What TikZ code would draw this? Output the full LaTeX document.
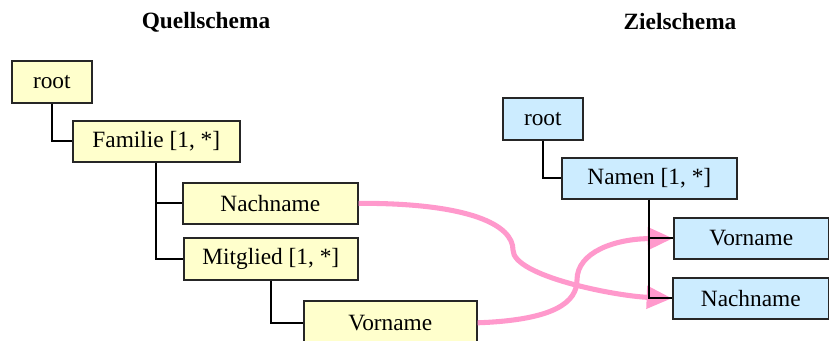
\documentclass[tikz,border=0pt]{standalone}
\usepackage{fontspec}
\setmainfont{Liberation Serif}
\usepackage{tikz}
\usetikzlibrary{arrows.meta,positioning,calc}
\definecolor{srcfill}{RGB}{255,255,204}
\definecolor{tgtfill}{RGB}{204,236,255}
\definecolor{mappink}{RGB}{255,153,204}
\tikzset{
  elem/.style={draw=black!85, line width=1.2pt, anchor=north west, inner sep=0pt,
    font=\fontsize{17.5}{20}\selectfont},
  src/.style={elem, fill=srcfill},
  tgt/.style={elem, fill=tgtfill},
  branch/.style={draw=black, line width=1.3pt},
  title/.style={font=\fontsize{17.5}{20}\selectfont\bfseries},
  mapping/.style={draw=mappink, line width=3.8pt,
    -{Triangle[length=19pt, width=16.5pt]}},
}

\begin{document}
\begin{tikzpicture}[x=0.75pt,y=-0.75pt]
      \useasboundingbox (0,0) rectangle (829,340);
      \clip (0,0) rectangle (829,340);

      % titles
      \node[title] (qtitle) at (206,22) {Quellschema};
      \node[title] (ztitle) at (680,22) {Zielschema};

      % source schema
      \node[src, minimum width=80*0.75pt, minimum height=42*0.75pt] (rootQ) at (11,60) {root};
      \node[src, minimum width=167*0.75pt, minimum height=41*0.75pt] (familie) at (72,120) {Familie [1, *]};
      \node[src, minimum width=175*0.75pt, minimum height=41*0.75pt] (nachQ) at (182,182) {Nachname};
      \node[src, minimum width=174*0.75pt, minimum height=42*0.75pt] (mitglied) at (183,237) {Mitglied [1, *]};
      \node[src, minimum width=173*0.75pt, minimum height=44*0.75pt] (vorQ) at (303,300) {Vorname};

      \draw[branch] (rootQ.south) |- (familie.west);
      \draw[branch] (familie.south) |- (nachQ.west);
      \draw[branch] (familie.south) |- (mitglied.west);
      \draw[branch] (mitglied.south) |- (vorQ.west);

      % target schema
      \node[tgt, minimum width=80*0.75pt, minimum height=42*0.75pt] (rootZ) at (502,97) {root};
      \node[tgt, minimum width=175*0.75pt, minimum height=41*0.75pt] (namen) at (561,157) {Namen [1, *]};
      \node[tgt, minimum width=155*0.75pt, minimum height=41*0.75pt] (vorZ) at (673,217) {Vorname};
      \node[tgt, minimum width=156*0.75pt, minimum height=41*0.75pt] (nachZ) at (672,277) {Nachname};

      % mappings
      \draw[mapping] (nachQ.east) .. controls (470,203) and (513,225) .. (513,250)
        .. controls (513,276) and (615,296) .. (nachZ.west);
      \draw[mapping] (vorQ.east) .. controls (555,320) and (577,302) .. (577,280)
        .. controls (577,252) and (615,239) .. (vorZ.west);

      % branches over the arrow tips
      \draw[branch] (rootZ.south) |- (namen.west);
      \draw[branch] (namen.south) |- (vorZ.west);
      \draw[branch] (namen.south) |- (nachZ.west);
    \end{tikzpicture}
\end{document}
